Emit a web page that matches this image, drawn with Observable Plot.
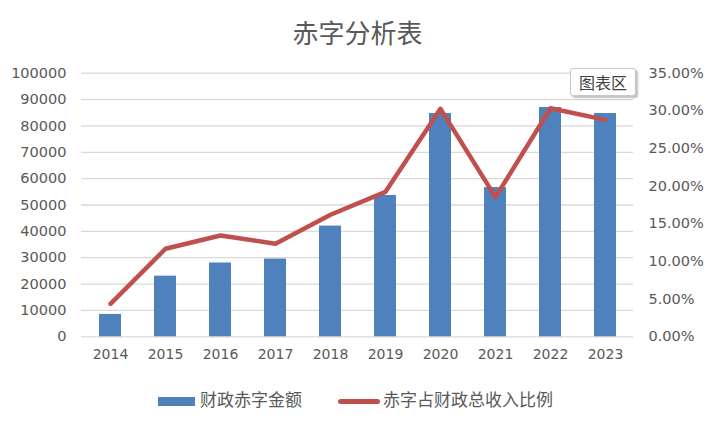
<!DOCTYPE html>
<html>
<head>
<meta charset="utf-8">
<script src="https://cdn.jsdelivr.net/npm/d3@7"></script>
<script src="https://cdn.jsdelivr.net/npm/@observablehq/plot@0.6"></script>
<style>
  body { margin: 0; background: #fff; width: 715px; height: 427px; overflow: hidden; position: relative; font-family: "DejaVu Sans", "Noto Sans CJK SC", sans-serif; }
  #title { height: 58px; line-height: 64px; text-align: center; font-family: "Noto Sans CJK SC", sans-serif; font-size: 26px; color: #595959; }
  #legend { position: absolute; top: 384px; left: 0; width: 715px; height: 30px; font-family: "Noto Sans CJK SC", sans-serif; font-size: 17px; color: #595959; }
  .item { position: absolute; top: 0; height: 30px; line-height: 30px; white-space: nowrap; }
  .sw { display: inline-block; vertical-align: middle; }
  #tip { position: absolute; left: 570px; top: 68px; width: 64px; height: 26px; line-height: 26px; text-align: center; border: 1px solid #c8c8c8; border-radius: 3px; background: #fff; box-shadow: 2px 2px 2px rgba(0,0,0,0.25); font-family: "Noto Sans CJK SC", sans-serif; font-size: 16px; color: #404040; }
</style>
</head>
<body>
<div id="title">赤字分析表</div>
<div id="chart"></div>
<div id="legend"></div>
<div id="tip">图表区</div>
<script>
const years = ["2014","2015","2016","2017","2018","2019","2020","2021","2022","2023"];
const deficit = [8500, 23000, 28000, 29500, 42000, 53600, 84700, 56600, 87000, 84700];
const ratio = [0.0438, 0.1169, 0.1345, 0.1235, 0.1620, 0.1925, 0.3027, 0.1854, 0.3035, 0.2880];
const leftTicks = [0, 10000, 20000, 30000, 40000, 50000, 60000, 70000, 80000, 90000, 100000];
const rightTicks = [0, 0.05, 0.10, 0.15, 0.20, 0.25, 0.30, 0.35];
const seriesNames = ["财政赤字金额", "赤字占财政总收入比例"];

const leftMax = 100000, rightMax = 0.35;
const k = leftMax / rightMax;
const barData = years.map((y, i) => ({year: y, value: deficit[i]}));
const lineData = years.map((y, i) => ({year: y, value: ratio[i] * k}));

const chart = Plot.plot({
  width: 715,
  height: 310,
  marginLeft: 81,
  marginRight: 82,
  marginTop: 14.7,
  marginBottom: 31.7,
  style: {fontFamily: "DejaVu Sans, sans-serif", fontSize: "14px", color: "#595959", background: "transparent"},
  x: {domain: years, paddingInner: 0.6, paddingOuter: 0.3, label: null},
  y: {domain: [0, leftMax], label: null},
  marks: [
    Plot.gridY(leftTicks, {stroke: "#d9d9d9", strokeOpacity: 1, strokeWidth: 1.3}),
    Plot.barY(barData, {x: "year", y: "value", fill: "#4f81bd"}),
    Plot.lineY(lineData, {x: "year", y: "value", stroke: "#c0504d", strokeWidth: 4.5, strokeLinejoin: "round", strokeLinecap: "round"}),
    Plot.axisY(leftTicks, {anchor: "left", tickSize: 0, tickPadding: 15, label: null, fill: "#595959", fontSize: 14.5, tickFormat: d3.format("d")}),
    Plot.axisY(rightTicks.map(d => d * k), {anchor: "right", tickSize: 0, tickPadding: 15, label: null, fill: "#595959", fontSize: 14.5,
      tickFormat: d => (d / k * 100).toFixed(2) + "%"}),
    Plot.axisX({tickSize: 0, tickPadding: 12, label: null, fill: "#595959", fontSize: 14})
  ]
});
document.getElementById("chart").appendChild(chart);

const legend = document.getElementById("legend");
legend.innerHTML =
  `<div class="item" style="left:158px"><span class="sw" style="width:37px;height:9px;background:#4f81bd;margin-right:5px"></span>${seriesNames[0]}</div>` +
  `<div class="item" style="left:338px"><span class="sw" style="width:42px;height:5px;border-radius:3px;background:#c0504d;margin-right:3px"></span>${seriesNames[1]}</div>`;
</script>
</body>
</html>
